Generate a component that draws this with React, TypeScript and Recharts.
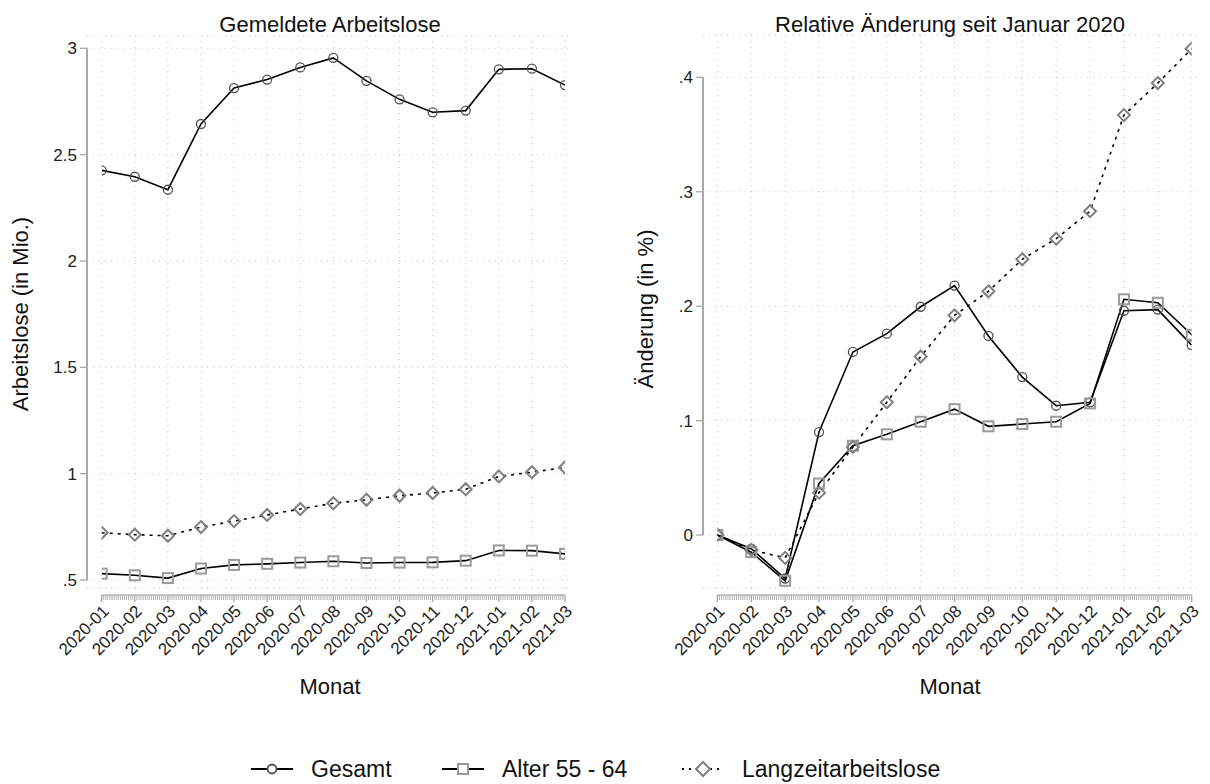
import React from 'react';
import {
  LineChart,
  Line,
  XAxis,
  YAxis,
  CartesianGrid,
  ReferenceLine
} from 'recharts';

const months = [
  '2020-01', '2020-02', '2020-03', '2020-04', '2020-05', '2020-06', '2020-07', '2020-08',
  '2020-09', '2020-10', '2020-11', '2020-12', '2021-01', '2021-02', '2021-03'
];

// Gemeldete Arbeitslose, in Mio.
const gesamtMio = [2.426, 2.396, 2.335, 2.644, 2.813, 2.853, 2.910, 2.955, 2.847, 2.760, 2.699, 2.707, 2.901, 2.904, 2.827];
const alterMio = [0.530, 0.522, 0.509, 0.554, 0.571, 0.576, 0.582, 0.588, 0.580, 0.582, 0.583, 0.591, 0.639, 0.638, 0.623];
const langzeitMio = [0.722, 0.713, 0.708, 0.749, 0.777, 0.806, 0.834, 0.861, 0.877, 0.896, 0.909, 0.927, 0.987, 1.007, 1.029];

// Relative Änderung seit Januar 2020
const gesamtRel = [0, -0.012, -0.038, 0.090, 0.160, 0.176, 0.1995, 0.218, 0.174, 0.138, 0.113, 0.116, 0.196, 0.197, 0.166];
const alterRel = [0, -0.015, -0.040, 0.045, 0.078, 0.088, 0.099, 0.110, 0.095, 0.097, 0.099, 0.115, 0.206, 0.203, 0.175];
const langzeitRel = [0, -0.013, -0.020, 0.037, 0.077, 0.116, 0.156, 0.192, 0.213, 0.241, 0.259, 0.283, 0.367, 0.395, 0.425];

const leftTicks = [0.5, 1, 1.5, 2, 2.5, 3];
const rightTicks = [0, 0.1, 0.2, 0.3, 0.4];

const FONT = '"Liberation Sans", Arial, sans-serif';
const MINOR = 16; // ruler teeth per month
const PLOT_BOTTOM = 588;
const CHART_H = 720;
const AXIS_GREY = '#a8a8a8';
const GRID = '#c4c4c4';

const minorTicks: number[] = [];
for (let k = 0; k <= (months.length - 1) * MINOR; k++) minorTicks.push(k / MINOR);

const fmt = (v: number) => {
  let s = String(+v.toFixed(2));
  if (s.startsWith('0.')) s = s.slice(1);
  return s;
};

const CircleDot = (p: any) => (
  <circle key={`c-${p.index}`} cx={p.cx} cy={p.cy} r={4.5} fill="none" stroke="#505050" strokeWidth={1.3} />
);
const SquareDot = (p: any) => (
  <rect key={`s-${p.index}`} x={p.cx - 5} y={p.cy - 5} width={10} height={10} fill="none" stroke="#9a9a9a" strokeWidth={2} />
);
const DiamondDot = (p: any) => (
  <path
    key={`d-${p.index}`}
    d={`M${p.cx},${p.cy - 6}L${p.cx + 6},${p.cy}L${p.cx},${p.cy + 6}L${p.cx - 6},${p.cy}Z`}
    fill="none"
    stroke="#808080"
    strokeWidth={2}
  />
);

interface PanelProps {
  left: number;
  axisW: number;
  marginRight: number;
  marginTop: number;
  domain: [number, number];
  ticks: number[];
  padLeft: number;
  padRight: number;
  gesamt: number[];
  alter: number[];
  langzeit: number[];
}

const Panel: React.FC<PanelProps> = ({
  left, axisW, marginRight, marginTop, domain, ticks, padLeft, padRight, gesamt, alter, langzeit
}) => {
  const data = months.map((m, i) => ({
    idx: i,
    month: m,
    gesamt: gesamt[i],
    alter: alter[i],
    langzeit: langzeit[i]
  }));

  const plotW = 605 - axisW - marginRight;
  const spacing = (plotW - padLeft - padRight) / (months.length - 1);
  const plotH = PLOT_BOTTOM - marginTop;
  const tickStepPx = (plotH / (domain[1] - domain[0])) * (ticks[1] - ticks[0]);
  const topTick = ticks[ticks.length - 1];

  const xTick = (props: any) => {
    const { x, y, payload } = props;
    const k = Math.round(payload.value * MINOR);
    const major = k % MINOR === 0;
    const base = y + 7;
    const step = spacing / MINOR;
    return (
      <g key={`xt-${k}`}>
        {k < (months.length - 1) * MINOR && (
          <line x1={x} x2={x + step} y1={base} y2={base} stroke={AXIS_GREY} strokeWidth={1.3} />
        )}
        <line x1={x} x2={x} y1={base} y2={base + (major ? 7 : 5)} stroke={AXIS_GREY} strokeWidth={major ? 1.3 : 0.9} />
        {major && (
          <text
            transform={`translate(${x + 4},${base + 13}) rotate(-45)`}
            dy="0.35em"
            textAnchor="end"
            fontSize={17}
            fontFamily={FONT}
            fill="#222"
          >
            {months[k / MINOR]}
          </text>
        )}
      </g>
    );
  };

  const yTick = (props: any) => {
    const { x, y, payload } = props;
    return (
      <g key={`yt-${payload.value}`}>
        <line x1={x - 7} x2={x} y1={y} y2={y} stroke={AXIS_GREY} strokeWidth={1.3} />
        {payload.value !== topTick && (
          <line x1={x} x2={x} y1={y} y2={y - tickStepPx} stroke={AXIS_GREY} strokeWidth={2} />
        )}
        <text x={x - 10} y={y} dy="0.35em" textAnchor="end" fontSize={17} fontFamily={FONT} fill="#222">
          {fmt(payload.value)}
        </text>
      </g>
    );
  };

  return (
    <div style={{ position: 'absolute', left, top: 0 }}>
      <LineChart
        width={605}
        height={CHART_H}
        data={data}
        margin={{ top: marginTop, right: marginRight, left: 0, bottom: 0 }}
      >
        <CartesianGrid vertical={false} stroke={GRID} strokeDasharray="1 5" />
        {months.map((_, i) => (
          <ReferenceLine key={`vg-${i}`} x={i} stroke={GRID} strokeDasharray="1 5" />
        ))}
        <XAxis
          dataKey="idx"
          type="number"
          domain={[0, months.length - 1]}
          ticks={minorTicks}
          interval={0}
          padding={{ left: padLeft, right: padRight }}
          height={CHART_H - PLOT_BOTTOM}
          axisLine={false}
          tickLine={false}
          tickSize={0}
          tickMargin={0}
          tick={xTick}
          allowDataOverflow
        />
        <YAxis
          type="number"
          domain={domain}
          ticks={ticks}
          width={axisW}
          axisLine={false}
          tickLine={false}
          tickSize={0}
          tickMargin={0}
          tick={yTick}
          allowDataOverflow
          interval={0}
        />
        <Line
          dataKey="gesamt"
          stroke="#000"
          strokeWidth={1.6}
          dot={CircleDot}
          activeDot={false}
          isAnimationActive={false}
        />
        <Line
          dataKey="alter"
          stroke="#000"
          strokeWidth={1.6}
          dot={SquareDot}
          activeDot={false}
          isAnimationActive={false}
        />
        <Line
          dataKey="langzeit"
          stroke="#000"
          strokeWidth={1.6}
          strokeDasharray="3 5"
          dot={DiamondDot}
          activeDot={false}
          isAnimationActive={false}
        />
      </LineChart>
    </div>
  );
};

const textBase: React.CSSProperties = {
  position: 'absolute',
  fontFamily: FONT,
  color: '#111',
  whiteSpace: 'nowrap'
};

const Title = ({ cx, top, text }: { cx: number; top: number; text: string }) => (
  <div style={{ ...textBase, left: cx - 250, width: 500, top, textAlign: 'center', fontSize: 22, lineHeight: '22px' }}>
    {text}
  </div>
);

const VTitle = ({ cx, cy, text }: { cx: number; cy: number; text: string }) => (
  <div
    style={{
      ...textBase,
      left: cx - 150,
      top: cy - 11,
      width: 300,
      height: 22,
      textAlign: 'center',
      fontSize: 22,
      lineHeight: '22px',
      transform: 'rotate(-90deg)'
    }}
  >
    {text}
  </div>
);

const LegendIcon = ({ kind }: { kind: 'circle' | 'square' | 'diamond' }) => (
  <svg width={46} height={24} style={{ display: 'block' }}>
    <line x1={2} x2={44} y1={12} y2={12} stroke="#000" strokeWidth={2} strokeDasharray={kind === 'diamond' ? '2 5' : undefined} />
    {kind === 'circle' && <circle cx={23} cy={12} r={4.5} fill="#fff" stroke="#505050" strokeWidth={1.8} />}
    {kind === 'square' && <rect x={18} y={7} width={10} height={10} fill="#fff" stroke="#9a9a9a" strokeWidth={2} />}
    {kind === 'diamond' && <path d="M23,5L30,12L23,19L16,12Z" fill="#fff" stroke="#808080" strokeWidth={2} />}
  </svg>
);

const legendItems: { label: string; kind: 'circle' | 'square' | 'diamond'; x: number }[] = [
  { label: 'Gesamt', kind: 'circle', x: 249 },
  { label: 'Alter 55 - 64', kind: 'square', x: 440 },
  { label: 'Langzeitarbeitslose', kind: 'diamond', x: 680 }
];

const App: React.FC = () => (
  <div style={{ position: 'absolute', left: 0, top: 0, width: 1210, height: 784, background: '#fff', overflow: 'hidden' }}>
    <Panel
      left={0}
      axisW={87}
      marginRight={33}
      marginTop={36}
      domain={[0.4624, 3.0578]}
      ticks={leftTicks}
      padLeft={14.7}
      padRight={7}
      gesamt={gesamtMio}
      alter={alterMio}
      langzeit={langzeitMio}
    />
    <Panel
      left={605}
      axisW={98}
      marginRight={12}
      marginTop={35}
      domain={[-0.0463, 0.437]}
      ticks={rightTicks}
      padLeft={14.4}
      padRight={6.3}
      gesamt={gesamtRel}
      alter={alterRel}
      langzeit={langzeitRel}
    />
    <Title cx={330} top={14} text="Gemeldete Arbeitslose" />
    <Title cx={950} top={14} text="Relative Änderung seit Januar 2020" />
    <Title cx={330} top={676} text="Monat" />
    <Title cx={950} top={676} text="Monat" />
    <VTitle cx={21} cy={314} text="Arbeitslose (in Mio.)" />
    <VTitle cx={646} cy={309} text="Änderung (in %)" />
    {legendItems.map((it) => (
      <div key={it.label} style={{ ...textBase, left: it.x, top: 757, display: 'flex', alignItems: 'center', fontSize: 23, lineHeight: '24px' }}>
        <LegendIcon kind={it.kind} />
        <span style={{ marginLeft: 16 }}>{it.label}</span>
      </div>
    ))}
  </div>
);

export default App;
